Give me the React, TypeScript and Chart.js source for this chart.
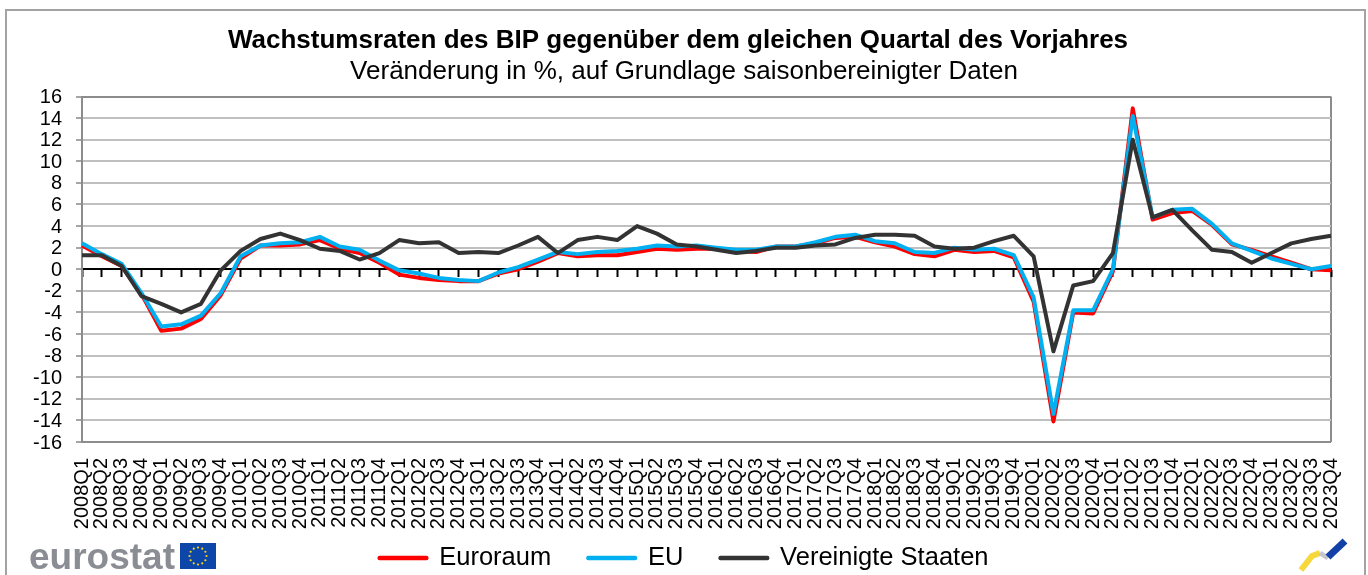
import React, { useEffect, useRef } from "react";
import { Chart, registerables } from "chart.js";

Chart.register(...registerables);

const years = [2008,2009,2010,2011,2012,2013,2014,2015,2016,2017,2018,2019,2020,2021,2022,2023];
const quarters = ["Q1","Q2","Q3","Q4"];
const categories: string[] = years.flatMap((y) => quarters.map((q) => `${y}${q}`));

const euroArea = [
  2.2,1.2,0.3,-2.3, -5.7,-5.5,-4.6,-2.4, 1.0,2.2,2.2,2.3, 2.7,1.9,1.5,0.6,
  -0.5,-0.8,-1.0,-1.1, -1.1,-0.4,0.0,0.7, 1.5,1.2,1.3,1.3, 1.6,1.9,1.8,1.9,
  1.9,1.7,1.6,2.1, 2.1,2.4,2.9,3.0, 2.5,2.1,1.4,1.2, 1.8,1.6,1.7,1.1,
  -3.0,-14.1,-4.0,-4.1, -0.2,14.9,4.6,5.2, 5.4,4.1,2.3,1.8, 1.2,0.6,0.0,-0.1,
];
const eu = [
  2.4,1.4,0.5,-2.2, -5.3,-5.1,-4.3,-2.2, 1.2,2.2,2.4,2.5, 3.0,2.1,1.8,0.8,
  -0.1,-0.4,-0.8,-1.0, -1.1,-0.3,0.2,0.9, 1.6,1.4,1.6,1.7, 1.9,2.2,2.1,2.2,
  2.0,1.8,1.8,2.1, 2.1,2.5,3.0,3.2, 2.6,2.4,1.6,1.5, 2.0,1.8,1.9,1.3,
  -2.6,-13.4,-3.8,-3.8, 0.0,14.2,4.8,5.5, 5.6,4.2,2.4,1.7, 1.0,0.5,0.0,0.3,
];
const unitedStates = [
  1.3,1.3,0.3,-2.5, -3.2,-4.0,-3.2,-0.1, 1.7,2.8,3.3,2.7, 1.9,1.7,0.9,1.5,
  2.7,2.4,2.5,1.5, 1.6,1.5,2.2,3.0, 1.5,2.7,3.0,2.7, 4.0,3.3,2.3,2.1,
  1.8,1.5,1.7,2.0, 2.0,2.2,2.3,2.9, 3.2,3.2,3.1,2.1, 1.9,2.0,2.6,3.1,
  1.2,-7.6,-1.5,-1.1, 1.5,12.0,4.8,5.5, 3.6,1.8,1.6,0.6, 1.5,2.4,2.8,3.1,
];

const FONT = '"Liberation Sans", Arial, sans-serif';
const GRID = "#bfbfbf";
const EDGE = "#8c8c8c";

const nudgeBlocks = {
  id: "nudgeBlocks",
  afterLayout(chart: any) {
    if (chart.titleBlock) chart.titleBlock.left -= 12;
    if (chart.legend) chart.legend.top -= 25.75;
  },
};

export default function App() {
  const ref = useRef<HTMLCanvasElement>(null);
  useEffect(() => {
    const chart = new Chart(ref.current!, {
      type: "line",
      plugins: [nudgeBlocks],
      data: {
        labels: categories,
        datasets: [
          { label: "Euroraum", data: euroArea, borderColor: "#ff0000", backgroundColor: "#ff0000", order: 3 },
          { label: "EU", data: eu, borderColor: "#00b0f0", backgroundColor: "#00b0f0", order: 2 },
          { label: "Vereinigte Staaten", data: unitedStates, borderColor: "#333333", backgroundColor: "#333333", order: 1 },
        ].map((d) => ({ ...d, borderWidth: 4, borderJoinStyle: "round", pointRadius: 0, tension: 0, clip: false as any, xAxisID: "x", yAxisID: "y" })),
      },
      options: {
        responsive: false,
        animation: false,
        layout: { padding: { left: 0, right: 0, top: 0, bottom: -31.5 } },
        plugins: {
          tooltip: { enabled: false },
          title: {
            display: true,
            text: "Wachstumsraten des BIP gegenüber dem gleichen Quartal des Vorjahres",
            color: "#000",
            font: { family: FONT, size: 26, weight: "bold", lineHeight: 1.2 },
            padding: { top: 25, bottom: 0 },
          },
          subtitle: {
            display: true,
            text: "Veränderung in %, auf Grundlage saisonbereinigter Daten",
            color: "#000",
            font: { family: FONT, size: 26, weight: "normal", lineHeight: 1.2 },
            padding: { top: 0, bottom: 9.1 },
          },
          legend: {
            display: true,
            position: "bottom",
            labels: {
              color: "#000",
              font: { family: FONT, size: 25.5 },
              boxWidth: 47,
              boxHeight: 0.5,
              padding: 37,
              sort: (a: any, b: any) => a.datasetIndex - b.datasetIndex,
            },
          },
        },
        scales: {
          x: {
            type: "category",
            position: "bottom",
            grid: {
              display: true,
              drawTicks: false,
              lineWidth: 2,
              color: (ctx: any) => (ctx.index === categories.length - 1 ? EDGE : "transparent"),
            },
            border: { display: false },
            ticks: {
              autoSkip: false,
              minRotation: 90,
              maxRotation: 90,
              color: "#000",
              font: { family: FONT, size: 20 },
              padding: 16,
            },
            afterFit: (s: any) => {
              s.height = 92;
              s.paddingRight = 37;
            },
          },
          zero: {
            type: "category",
            axis: "x",
            position: { y: 0 },
            labels: categories,
            ticks: { display: false },
            grid: { drawOnChartArea: false, drawTicks: true, tickLength: 7, tickColor: "#000", tickWidth: 2 },
            border: { display: true, color: "#000", width: 2 },
          },
          y: {
            min: -16,
            max: 16,
            position: "left",
            ticks: { stepSize: 2, autoSkip: false, labelOffset: 1, color: "#000", font: { family: FONT, size: 20 }, padding: 14 },
            grid: {
              lineWidth: 2,
              tickLength: 6,
              tickColor: "#a6a6a6",
              color: (ctx: any) => (Math.abs(ctx.tick.value) === 16 ? EDGE : GRID),
            },
            border: { display: true, color: EDGE, width: 2 },
            afterFit: (s: any) => {
              s.width = 82;
            },
          },
        },
      } as any,
    });
    return () => chart.destroy();
  }, []);

  const stars = Array.from({ length: 12 }, (_, i) => {
    const a = (i * Math.PI) / 6;
    return <circle key={i} cx={18 + 8.5 * Math.cos(a)} cy={13 + 8.5 * Math.sin(a)} r={1.1} fill="#ffd617" />;
  });

  return (
    <div style={{ position: "fixed", inset: 0, overflow: "hidden", background: "#fff" }}>
      <div style={{ position: "absolute", left: 5, top: 9, width: 1357, height: 620, border: "2px solid #a3a3a3" }} />
      <canvas ref={ref} width={1368} height={575} style={{ position: "absolute", left: 0, top: 0, display: "block" }} />
      <div
        style={{
          position: "absolute",
          left: 29,
          top: 536,
          fontFamily: FONT,
          fontWeight: "bold",
          fontSize: 37,
          lineHeight: "42px",
          color: "#8a8d93",
        }}
      >
        eurostat
      </div>
      <svg style={{ position: "absolute", left: 180, top: 543 }} width={36} height={26}>
        <rect width={36} height={26} fill="#0b46a8" />
        {stars}
      </svg>
      <svg style={{ position: "absolute", left: 1296, top: 538 }} width={54} height={36}>
        <path d="M5 32 L16 18 L24 15" stroke="#f5d327" strokeWidth={6} fill="none" opacity={0.9} />
        <path d="M24 15 L32 20" stroke="#c4c6cc" strokeWidth={5} fill="none" />
        <path d="M32 19 L49 3" stroke="#123fa8" strokeWidth={7} fill="none" />
      </svg>
    </div>
  );
}
